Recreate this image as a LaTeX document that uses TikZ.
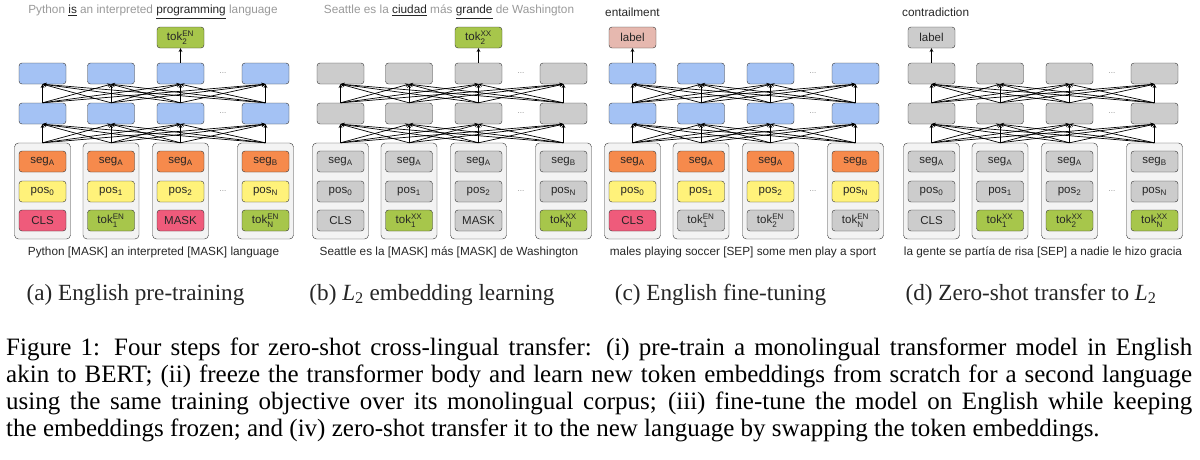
\documentclass[tikz,border=0pt]{standalone}
\usepackage{fontspec}
\usepackage{amsmath}
\setmainfont{Liberation Serif}
\setsansfont{Liberation Sans}

\definecolor{bluec}{HTML}{A4C2F4}
\definecolor{grayc}{HTML}{CCCCCC}
\definecolor{orangec}{HTML}{F68A4C}
\definecolor{yellowc}{HTML}{FFF27A}
\definecolor{pinkc}{HTML}{EF5B7B}
\definecolor{greenc}{HTML}{A7C64B}
\definecolor{labelc}{HTML}{E6B8AF}
\definecolor{outerc}{HTML}{F3F3F3}

\newcommand{\tk}[2]{tok$^{\text{#1}}_{\text{#2}}$}

\begin{document}
\begin{tikzpicture}[x=1pt, y=-1pt, >=stealth,
    box/.style={draw=black!80, rounded corners=3pt, minimum width=47pt, minimum height=21pt, inner sep=0pt},
    column/.style={draw=black!80, fill=outerc, rounded corners=4pt, minimum width=56pt, minimum height=96pt},
    link/.style={->, line width=0.7pt},
    dots/.style={text=black!45, font=\sffamily\fontsize{8}{8}\selectfont},
    sent/.style={font=\sffamily\fontsize{11.8}{14}\selectfont, inner sep=0pt},
    subcap/.style={font=\fontsize{23.2}{27}\selectfont, inner sep=0pt, anchor=base},
    font=\sffamily\fontsize{11.5}{13}\selectfont, text=black!85]
    \useasboundingbox (0,0) rectangle (1200,459);

    % layers, token columns and links of the four panels
    \foreach \p/\ox/\lc in {a/0/bluec, b/298/grayc, c/590/bluec, d/889/grayc} {
        \begin{scope}[xshift=\ox pt]
            \foreach \i/\x in {1/42.5, 2/111, 3/180.5, 4/265.5} {
                \node[column] (\p-c\i) at (\x,191) {};
                \node[box, fill=\lc] (\p-l\i) at (\x,113.5) {};
                \node[box, fill=\lc] (\p-u\i) at (\x,73.5) {};
            }
            \foreach \j/\y in {1/73.5, 2/113.5, 3/191.5}
                \node[dots] (\p-dots\j) at (223,\y) {...};
            \foreach \i in {1,...,4}
                \foreach \j in {1,...,4} {
                    \draw[link] (\p-c\i.north) -- (\p-l\j.south);
                    \draw[link] (\p-l\i.north) -- (\p-u\j.south);
                }
        \end{scope}
    }

    % (a) English pre-training
    \begin{scope}[xshift=0pt]
        \node[sent, text=black!40] (a-top) at (153,12) {Python \textcolor{black!85}{\underline{is}} an interpreted \textcolor{black!85}{\underline{programming}} language};
        \node[box, fill=greenc] (a-out) at (180.5,37.5) {\tk{EN}{2}};
        \draw[link] (a-u3) -- (a-out);
        \foreach \i/\x/\s/\q/\t/\tc in {1/42.5/A/0/CLS/pinkc, 2/111/A/1/\tk{EN}{1}/greenc, 3/180.5/A/2/MASK/pinkc, 4/265.5/B/N/\tk{EN}{N}/greenc} {
            \node[box, fill=orangec] (a-s\i) at (\x,161.5) {seg$_{\text{\s}}$};
            \node[box, fill=yellowc] (a-p\i) at (\x,191.5) {pos$_{\text{\q}}$};
            \node[box, fill=\tc] (a-t\i) at (\x,220.5) {\t};
        }
        \node[sent] (a-bot) at (153.5,252) {Python [MASK] an interpreted [MASK] language};
        \node[subcap] (a-sub) at (135.5,300) {(a) English pre-training};
    \end{scope}

    % (b) L2 embedding learning
    \begin{scope}[xshift=298pt]
        \node[sent, text=black!40] (b-top) at (151,12) {Seattle es la \textcolor{black!85}{\underline{ciudad}} más \textcolor{black!85}{\underline{grande}} de Washington};
        \node[box, fill=greenc] (b-out) at (180.5,37.5) {\tk{XX}{2}};
        \draw[link] (b-u3) -- (b-out);
        \foreach \i/\x/\s/\q/\t/\tc in {1/42.5/A/0/CLS/grayc, 2/111/A/1/\tk{XX}{1}/greenc, 3/180.5/A/2/MASK/grayc, 4/265.5/B/N/\tk{XX}{N}/greenc} {
            \node[box, fill=grayc] (b-s\i) at (\x,161.5) {seg$_{\text{\s}}$};
            \node[box, fill=grayc] (b-p\i) at (\x,191.5) {pos$_{\text{\q}}$};
            \node[box, fill=\tc] (b-t\i) at (\x,220.5) {\t};
        }
        \node[sent] (b-bot) at (151,252) {Seattle es la [MASK] más [MASK] de Washington};
        \node[subcap] (b-sub) at (134,300) {(b) \textit{L}\textsubscript{2} embedding learning};
    \end{scope}

    % (c) English fine-tuning
    \begin{scope}[xshift=590pt]
        \node[sent, anchor=west] (c-top) at (15,12) {entailment};
        \node[box, fill=labelc] (c-out) at (42.5,37.5) {label};
        \draw[link] (c-u1) -- (c-out);
        \foreach \i/\x/\s/\q/\t/\tc in {1/42.5/A/0/CLS/pinkc, 2/111/A/1/\tk{EN}{1}/grayc, 3/180.5/A/2/\tk{EN}{2}/grayc, 4/265.5/B/N/\tk{EN}{N}/grayc} {
            \node[box, fill=orangec] (c-s\i) at (\x,161.5) {seg$_{\text{\s}}$};
            \node[box, fill=yellowc] (c-p\i) at (\x,191.5) {pos$_{\text{\q}}$};
            \node[box, fill=\tc] (c-t\i) at (\x,220.5) {\t};
        }
        \node[sent] (c-bot) at (153,252) {males playing soccer [SEP] some men play a sport};
        \node[subcap] (c-sub) at (130.5,300) {(c) English fine-tuning};
    \end{scope}

    % (d) Zero-shot transfer to L2
    \begin{scope}[xshift=889pt]
        \node[sent, anchor=west] (d-top) at (13,12) {contradiction};
        \node[box, fill=grayc] (d-out) at (42.5,37.5) {label};
        \draw[link] (d-u1) -- (d-out);
        \foreach \i/\x/\s/\q/\t/\tc in {1/42.5/A/0/CLS/grayc, 2/111/A/1/\tk{XX}{1}/greenc, 3/180.5/A/2/\tk{XX}{2}/greenc, 4/265.5/B/N/\tk{XX}{N}/greenc} {
            \node[box, fill=grayc] (d-s\i) at (\x,161.5) {seg$_{\text{\s}}$};
            \node[box, fill=grayc] (d-p\i) at (\x,191.5) {pos$_{\text{\q}}$};
            \node[box, fill=\tc] (d-t\i) at (\x,220.5) {\t};
        }
        \node[sent] (d-bot) at (154,252) {la gente se partía de risa [SEP] a nadie le hizo gracia};
        \node[subcap] (d-sub) at (142,300) {(d) Zero-shot transfer to \textit{L}\textsubscript{2}};
    \end{scope}

    % figure caption
    \node[font=\fontsize{25}{26.8}\selectfont, inner sep=0pt, anchor=north west, text width=1186pt, align=justify, text=black] (caption) at (6,338) {\hyphenpenalty=10000 \emergencystretch=20pt
        Figure 1: Four steps for zero-shot cross-lingual transfer: (i) pre-train a monolingual transformer model in English\linebreak
        akin to BERT; (ii) freeze the transformer body and learn new token embeddings from scratch for a second language\linebreak
        using the same training objective over its monolingual corpus; (iii) fine-tune the model on English while keeping\linebreak
        the embeddings frozen; and (iv) zero-shot transfer it to the new language by swapping the token embeddings.};
\end{tikzpicture}
\end{document}
